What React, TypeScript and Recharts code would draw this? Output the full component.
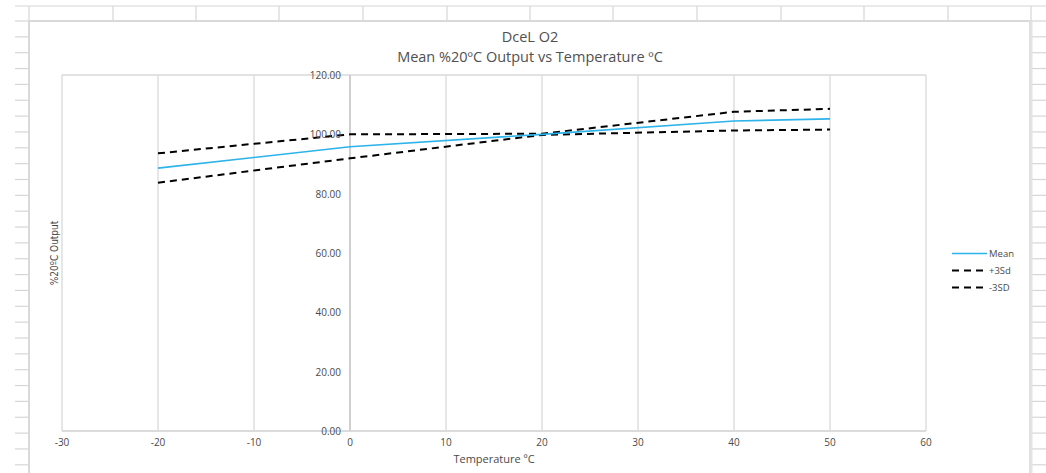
import React from "react";
import {
  LineChart,
  Line,
  XAxis,
  YAxis,
  CartesianGrid,
  ReferenceLine,
  ReferenceDot,
} from "recharts";

// ---- data ----
const temperatures = [-20, 0, 20, 40, 50];
const meanValues = [88.6, 95.8, 100.0, 104.5, 105.2];
const plus3SdValues = [93.6, 100.0, 100.2, 107.6, 108.6];
const minus3SdValues = [83.7, 91.9, 99.8, 101.3, 101.6];

const xTicks = [-30, -20, -10, 0, 10, 20, 30, 40, 50, 60];
const yTicks = [0, 20, 40, 60, 80, 100, 120];

const titleLine1 = "DceL O2";
const titleLine2 = "Mean %20ºC Output vs Temperature ºC";
const xTitle = "Temperature ºC";
const yTitle = "%20ºC Output";
const seriesNames = ["Mean", "+3Sd", "-3SD"];

const data = temperatures.map((t, i) => ({
  t,
  mean: meanValues[i],
  plus: plus3SdValues[i],
  minus: minus3SdValues[i],
}));

const W = 1046;
const H = 473;
const FONT = "'Open Sans', 'Liberation Sans', sans-serif";
const TXT = "#4a4a4a";
const TITLE = "#505050";
const GRID = "#d9d9d9";
const BLUE = "#2BB3EA";

// spreadsheet background
const colXs = [29, 113, 196, 279, 363, 447, 530, 613, 697, 781, 864, 948, 1031];
const rowYs: number[] = [];
for (let k = 0; 21 + k * 15.85 < H; k++) rowYs.push(21 + k * 15.85);

function Sheet() {
  return (
    <svg width={W} height={H} style={{ position: "absolute", left: 0, top: 0 }}>
      <rect x={0} y={0} width={W} height={H} fill="#fff" />
      <line x1={15} y1={6} x2={W} y2={6} stroke="#d6d6d6" strokeWidth={1.2} />
      {colXs.map((x) => (
        <line key={x} x1={x} y1={6} x2={x} y2={21} stroke="#d6d6d6" strokeWidth={1.2} />
      ))}
      {rowYs.map((y) => (
        <g key={y}>
          <line x1={15} y1={y} x2={29} y2={y} stroke="#d6d6d6" strokeWidth={1.2} />
          <line x1={1031} y1={y} x2={W} y2={y} stroke="#d6d6d6" strokeWidth={1.2} />
        </g>
      ))}
      <rect x={29} y={21} width={1001} height={H} fill="#fff" stroke="#d9d9d9" strokeWidth={2} />
      <rect x={1029.5} y={21} width={3} height={H} fill="#e3e3e3" />
    </svg>
  );
}

const yLabelShape = (v: number) => (p: any) => (
  <text
    x={p.cx - 9}
    y={p.cy}
    textAnchor="end"
    dominantBaseline="central"
    fontFamily={FONT}
    fontSize={10}
    fill={TXT}
  >
    {v.toFixed(2)}
  </text>
);

function Legend() {
  const rows = [
    { name: seriesNames[0], color: BLUE, dash: undefined, w: 1.5 },
    { name: seriesNames[1], color: "#000", dash: "7 5", w: 2 },
    { name: seriesNames[2], color: "#000", dash: "7 5", w: 2 },
  ];
  return (
    <g>
      {rows.map((r, i) => {
        const y = 253.5 + i * 17;
        return (
          <g key={r.name}>
            <line x1={952} y1={y} x2={987} y2={y} stroke={r.color} strokeWidth={r.w} strokeDasharray={r.dash} />
            <text x={989} y={y} dominantBaseline="central" fontFamily={FONT} fontSize={9.5} fill={TXT}>
              {r.name}
            </text>
          </g>
        );
      })}
    </g>
  );
}

function Titles() {
  return (
    <svg width={W} height={H} style={{ position: "absolute", left: 0, top: 0, pointerEvents: "none" }}>
      <text x={530} y={36.5} textAnchor="middle" dominantBaseline="central" fontFamily={FONT} fontSize={14.5} fill={TITLE}>
        {titleLine1}
      </text>
      <text x={530} y={56.5} textAnchor="middle" dominantBaseline="central" fontFamily={FONT} fontSize={14.5} fill={TITLE}>
        {titleLine2}
      </text>
      <text x={494} y={458} textAnchor="middle" dominantBaseline="central" fontFamily={FONT} fontSize={11} fill={TXT}>
        {xTitle}
      </text>
      <text
        x={54}
        y={253}
        textAnchor="middle"
        dominantBaseline="central"
        transform="rotate(-90 54 253)"
        fontFamily="'Liberation Sans Narrow', 'DejaVu Sans Condensed', 'Liberation Sans', sans-serif"
        fontSize={10}
        fill={TXT}
      >
        {yTitle}
      </text>
      <Legend />
    </svg>
  );
}

export default function App() {
  return (
    <div style={{ position: "absolute", left: 0, top: 0, width: W, height: H, overflow: "hidden", background: "#fff" }}>
      <Sheet />
      <div style={{ position: "absolute", left: 0, top: 0 }}>
        <LineChart width={W} height={H} data={data} margin={{ top: 75, right: 120, bottom: 12, left: 62 }}>
          <CartesianGrid stroke={GRID} strokeWidth={1.3} />
          <XAxis
            dataKey="t"
            type="number"
            domain={[-30, 60]}
            ticks={xTicks}
            interval={0}
            height={30}
            axisLine={{ stroke: GRID, strokeWidth: 1.5 }}
            tickLine={false}
            tickSize={6}
            tick={{ fill: TXT, fontSize: 10, fontFamily: FONT }}
          />
          <YAxis
            type="number"
            domain={[0, 120]}
            ticks={yTicks}
            width={0}
            tick={false}
            axisLine={false}
            tickLine={false}
          />
          <ReferenceLine x={0} stroke="#c4c4c4" strokeWidth={1.3} />
          {yTicks.map((v) => (
            <ReferenceDot key={v} x={0} y={v} r={0} ifOverflow="visible" shape={yLabelShape(v)} />
          ))}
          <Line
            dataKey="plus"
            name={seriesNames[1]}
            stroke="#000"
            strokeWidth={2}
            strokeDasharray="7 5"
            dot={false}
            isAnimationActive={false}
          />
          <Line
            dataKey="minus"
            name={seriesNames[2]}
            stroke="#000"
            strokeWidth={2}
            strokeDasharray="7 5"
            dot={false}
            isAnimationActive={false}
          />
          <Line
            dataKey="mean"
            name={seriesNames[0]}
            stroke={BLUE}
            strokeWidth={1.6}
            dot={false}
            isAnimationActive={false}
          />
        </LineChart>
      </div>
      <Titles />
    </div>
  );
}
